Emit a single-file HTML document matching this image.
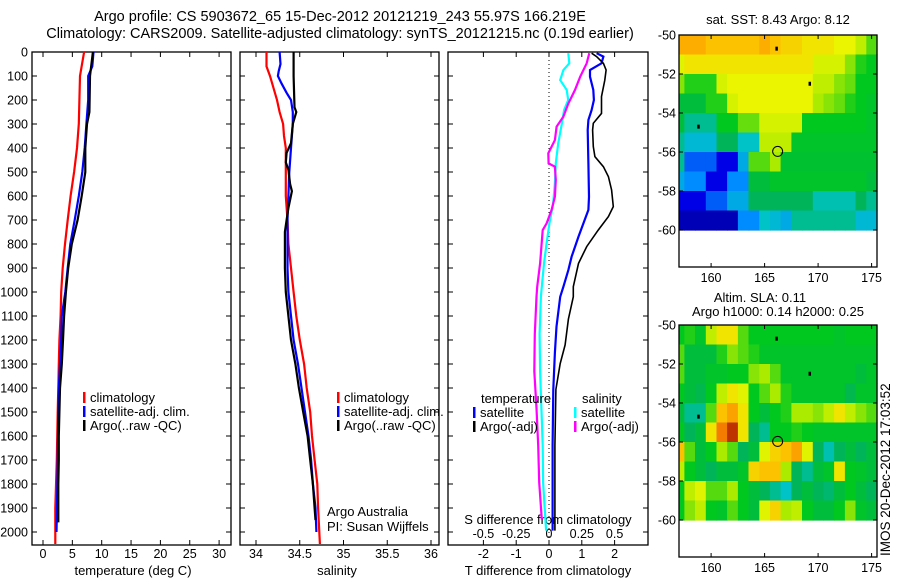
<!DOCTYPE html>
<html><head><meta charset="utf-8"><style>
html,body{margin:0;padding:0;background:#fff;}
svg{display:block;font-family:"Liberation Sans",sans-serif;}
text{fill:#000;}
</style></head><body>
<svg id="fig" width="900" height="580" viewBox="0 0 900 580" xmlns="http://www.w3.org/2000/svg">
<text x="340" y="21" font-size="14.5" text-anchor="middle">Argo profile: CS 5903672_65 15-Dec-2012 20121219_243 55.97S 166.219E</text>
<text x="340" y="38" font-size="14.5" text-anchor="middle">Climatology: CARS2009. Satellite-adjusted climatology: synTS_20121215.nc (0.19d earlier)</text>
<g id="g1"></g>
<g id="g2"></g>
<g id="g3"></g>
<g id="m1"></g>
<g id="m2"></g>
<text transform="translate(890,556) rotate(-90)" font-size="13.5">IMOS 20-Dec-2012 17:03:52</text>
</svg>
<script>
// ---------- data ----------
const depthTicks=[0,100,200,300,400,500,600,700,800,900,1000,1100,1200,1300,1400,1500,1600,1700,1800,1900,2000];
const tempTicks=[0,5,10,15,20,25,30];
const salTicks=[34,34.5,35,35.5,36];
const salTickLabels=["34","34.5","35","35.5","36"];
const tdiffTicks=[-2,-1,0,1,2];
const sdiffTicks=[-0.5,-0.25,0,0.25,0.5];

const tClimDepth=[0,100,200,300,400,500,600,700,800,900,1000,1100,1200,1300,1400,1500,1700,1900,2050];
const tClim=[7.0,6.3,6.2,6.1,5.8,5.3,4.7,4.2,3.75,3.35,3.1,3.0,2.8,2.7,2.6,2.5,2.35,2.1,2.1];
const tSatDepth=[0,60,100,200,300,400,500,600,700,800,900,1000,1100,1200,1300,1400,1500,1600,1800,2000];
const tSat=[8.6,8.4,7.7,7.7,7.4,7.1,6.7,6.1,5.4,4.65,4.2,3.8,3.2,3.1,2.9,2.7,2.6,2.55,2.45,2.3];
const tArgoDepth=[0,100,250,300,400,500,600,700,800,900,1000,1100,1200,1300,1400,1500,1600,1700,1800,1960];
const tArgo=[8.5,8.0,7.9,7.5,7.2,7.2,6.6,5.9,4.9,4.3,3.9,3.6,3.4,3.2,2.9,2.8,2.7,2.7,2.6,2.6];

const sClimDepth=[0,60,100,150,200,250,300,350,400,500,600,700,800,900,1000,1100,1200,1300,1400,1500,1600,1700,1800,1900,2050];
const sClim=[34.12,34.12,34.16,34.20,34.24,34.27,34.31,34.32,34.34,34.34,34.34,34.36,34.37,34.40,34.43,34.46,34.50,34.55,34.58,34.62,34.64,34.67,34.70,34.71,34.73];
const sSatDepth=[0,50,80,100,130,170,200,250,300,400,500,600,700,800,900,1000,1100,1200,1300,1400,1500,1600,1700,1800,1900,2000];
const sSat=[34.27,34.28,34.26,34.25,34.29,34.35,34.40,34.42,34.42,34.40,34.38,34.37,34.36,34.36,34.36,34.37,34.40,34.43,34.48,34.52,34.56,34.60,34.63,34.65,34.68,34.69];
const sArgoDepth=[0,100,230,250,300,380,420,460,490,550,580,650,700,750,800,900,1000,1100,1200,1300,1400,1500,1600,1700,1800,1900,1950];
const sArgo=[34.43,34.43,34.44,34.46,34.42,34.40,34.35,34.34,34.37,34.39,34.41,34.37,34.35,34.33,34.33,34.33,34.34,34.37,34.40,34.45,34.49,34.54,34.59,34.62,34.65,34.67,34.68];

const dTSatDepth=[5,19,47,75,103,158,200,242,283,325,464,603,658,714,769,853,908,978,1020,1144,1252,1406,1639,1994];
const dTSat=[1.45,1.66,1.6,1.25,1.25,1.35,1.37,1.30,1.2,1.18,1.2,1.22,1.2,1.05,0.9,0.69,0.59,0.44,0.34,0.23,0.18,0.13,0.11,0.11];
const dTArgoDepth=[5,19,47,75,117,186,256,297,325,394,436,478,519,575,644,686,742,811,881,978,1020,1113,1221,1298,1406,1639,1994];
const dTArgo=[1.3,1.45,1.66,1.74,1.70,1.6,1.6,1.35,1.33,1.35,1.4,1.66,1.81,1.91,1.96,1.81,1.5,1.15,0.9,0.74,0.74,0.59,0.49,0.34,0.21,0.18,0.18];
const dSSatDepth=[5,47,75,117,158,200,242,297,381,464,547,631,714,797,881,978,1020,1175,1330,1484,1639,1793,1994];
const dSSat=[0.147,0.155,0.11,0.085,0.135,0.146,0.115,0.098,0.07,0.052,0.045,0.032,0.003,-0.018,-0.038,-0.055,-0.062,-0.072,-0.068,-0.058,-0.048,-0.045,-0.022];
const dSArgoDepth=[5,47,103,158,214,269,311,367,422,464,478,533,603,658,714,742,881,978,1020,1175,1330,1484,1639,1793,1948];
const dSArgo=[0.307,0.287,0.238,0.198,0.148,0.11,0.058,0.045,-0.005,-0.003,0.045,0.052,0.045,0.02,-0.018,-0.048,-0.068,-0.09,-0.095,-0.108,-0.112,-0.095,-0.082,-0.075,-0.055];

const mapLons=[157,158,159,160,161,162,163,164,165,166,167,168,169,170,171,172,173,174,175];
const mapLats=[-50,-51,-52,-53,-54,-55,-56,-57,-58,-59];
const sstGrid=[
[0.84,0.84,0.84,0.82,0.82,0.82,0.82,0.82,0.84,0.82,0.8,0.8,0.78,0.78,0.78,0.76,0.76,0.72,0.65],
[0.75,0.78,0.78,0.78,0.78,0.78,0.78,0.78,0.78,0.78,0.78,0.78,0.78,0.74,0.74,0.74,0.68,0.62,0.6],
[0.68,0.62,0.62,0.62,0.74,0.76,0.76,0.76,0.76,0.76,0.76,0.76,0.76,0.72,0.72,0.68,0.66,0.6,0.6],
[0.55,0.55,0.55,0.62,0.62,0.74,0.76,0.76,0.76,0.76,0.76,0.76,0.76,0.7,0.68,0.66,0.62,0.6,0.58],
[0.55,0.45,0.45,0.45,0.6,0.6,0.66,0.66,0.74,0.74,0.74,0.74,0.6,0.6,0.6,0.6,0.6,0.6,0.58],
[0.45,0.38,0.38,0.38,0.5,0.5,0.4,0.4,0.72,0.72,0.72,0.58,0.58,0.58,0.58,0.58,0.58,0.58,0.58],
[0.45,0.25,0.25,0.25,0.15,0.15,0.35,0.65,0.65,0.7,0.57,0.57,0.57,0.57,0.57,0.57,0.57,0.57,0.57],
[0.35,0.3,0.3,0.15,0.15,0.3,0.3,0.55,0.55,0.58,0.58,0.58,0.58,0.58,0.58,0.58,0.58,0.58,0.55],
[0.15,0.15,0.15,0.25,0.25,0.35,0.35,0.5,0.5,0.5,0.5,0.5,0.5,0.42,0.42,0.42,0.42,0.5,0.45],
[0.08,0.08,0.08,0.08,0.08,0.08,0.3,0.3,0.4,0.38,0.35,0.45,0.45,0.45,0.45,0.45,0.45,0.38,0.38]];
const slaGrid=[
[0.6,0.62,0.58,0.72,0.78,0.78,0.65,0.6,0.6,0.6,0.6,0.6,0.6,0.6,0.6,0.58,0.6,0.6,0.6],
[0.65,0.55,0.55,0.55,0.62,0.68,0.65,0.62,0.58,0.58,0.58,0.58,0.58,0.58,0.58,0.58,0.58,0.58,0.58],
[0.65,0.55,0.55,0.58,0.58,0.6,0.6,0.68,0.7,0.65,0.58,0.58,0.58,0.58,0.58,0.58,0.58,0.55,0.58],
[0.6,0.55,0.52,0.6,0.72,0.78,0.75,0.6,0.65,0.7,0.62,0.58,0.58,0.58,0.58,0.58,0.52,0.58,0.58],
[0.55,0.45,0.45,0.65,0.82,0.85,0.78,0.6,0.55,0.6,0.62,0.7,0.7,0.68,0.72,0.78,0.72,0.68,0.65],
[0.6,0.5,0.55,0.78,0.88,0.95,0.78,0.5,0.45,0.6,0.6,0.62,0.6,0.58,0.58,0.58,0.58,0.58,0.58],
[0.82,0.65,0.55,0.6,0.7,0.65,0.5,0.55,0.75,0.8,0.82,0.85,0.75,0.5,0.42,0.5,0.55,0.5,0.55],
[0.72,0.6,0.55,0.5,0.55,0.55,0.58,0.8,0.82,0.82,0.7,0.5,0.45,0.55,0.58,0.78,0.6,0.58,0.55],
[0.6,0.72,0.75,0.65,0.65,0.7,0.6,0.55,0.5,0.45,0.4,0.5,0.55,0.5,0.48,0.55,0.6,0.55,0.5],
[0.6,0.68,0.72,0.6,0.58,0.65,0.6,0.55,0.75,0.8,0.7,0.72,0.6,0.55,0.55,0.6,0.68,0.58,0.55]];
const mapLatTicks=[-50,-52,-54,-56,-58,-60];
const mapLonTicks=[160,165,170,175];
const argoLon=166.22, argoLat=-55.97;
const islandLons=[166.1,169.2,158.8];
const islandLats=[-50.7,-52.5,-54.7];

// ---------- helpers ----------
const NS="http://www.w3.org/2000/svg";
function mk(parent,tag,attrs,txt){const e=document.createElementNS(NS,tag);for(const k in attrs)e.setAttribute(k,attrs[k]);if(txt!==undefined)e.textContent=txt;parent.appendChild(e);return e;}
const Y0=52, YS=0.24, YB=545;
const yD=d=>Y0+d*YS;

function panelFrame(g,x0,x1,name){
  const r=mk(g,'rect',{x:x0,y:Y0,width:x1-x0,height:YB-Y0,fill:'none',stroke:'#000','stroke-width':1.3});
  
  
  depthTicks.forEach(d=>{
    mk(g,'line',{x1:x0,x2:x0+5,y1:yD(d),y2:yD(d),stroke:'#000'});
    mk(g,'line',{x1:x1-5,x2:x1,y1:yD(d),y2:yD(d),stroke:'#000'});
  });
}
function xTicks(g,vals,xf,labels,ly){
  vals.forEach((v,i)=>{
    const x=xf(v);
    mk(g,'line',{x1:x,x2:x,y1:Y0,y2:Y0+5,stroke:'#000'});
    mk(g,'line',{x1:x,x2:x,y1:YB-5,y2:YB,stroke:'#000'});
    const t=mk(g,'text',{x:x,y:ly,'font-size':12.5,'text-anchor':'middle'},labels?labels[i]:String(v));
    
    
  });
}
function profile(g,vals,depths,xf,color,name,w){
  const pts=vals.map((v,i)=>xf(v).toFixed(1)+','+yD(depths[i]).toFixed(1)).join(' ');
  const p=mk(g,'polyline',{points:pts,fill:'none',stroke:color,'stroke-width':w||2.2});
  
  
}
function legend(g,x,y,color,label){
  mk(g,'rect',{x:x,y:y-10,width:2.5,height:11,fill:color});
  const t=mk(g,'text',{x:x+7,y:y,'font-size':13},label);
  
  
}

// ---------- panel 1: temperature ----------
const g1=document.getElementById('g1');
const xT=v=>43+v*5.87;
panelFrame(g1,32,231,'temperature');
depthTicks.forEach(d=>{
  const t=mk(g1,'text',{x:28,y:yD(d)+4.5,'font-size':12.5,'text-anchor':'end'},String(d));
  
  
});
xTicks(g1,tempTicks,xT,null,558);
mk(g1,'text',{x:133,y:575,'font-size':13,'text-anchor':'middle'},'temperature (deg C)');
profile(g1,tClim,tClimDepth,xT,'#f00','temp-climatology-line');
profile(g1,tSat,tSatDepth,xT,'#00f','temp-satellite-line');
profile(g1,tArgo,tArgoDepth,xT,'#000','temp-argo-line');
legend(g1,83,402,'#f00','climatology');
legend(g1,83,416,'#00f','satellite-adj. clim.');
legend(g1,83,430,'#000','Argo(..raw -QC)');

// ---------- panel 2: salinity ----------
const g2=document.getElementById('g2');
const xS=v=>256+(v-34)*87.5;
panelFrame(g2,240,439,'salinity');
xTicks(g2,salTicks,xS,salTickLabels,558);
mk(g2,'text',{x:337,y:575,'font-size':13,'text-anchor':'middle'},'salinity');
profile(g2,sClim,sClimDepth,xS,'#f00','sal-climatology-line');
profile(g2,sSat,sSatDepth,xS,'#00f','sal-satellite-line');
profile(g2,sArgo,sArgoDepth,xS,'#000','sal-argo-line');
legend(g2,337,402,'#f00','climatology');
legend(g2,337,416,'#00f','satellite-adj. clim.');
legend(g2,337,430,'#000','Argo(..raw -QC)');
mk(g2,'text',{x:327,y:516,'font-size':13},'Argo Australia');
mk(g2,'text',{x:327,y:531,'font-size':13},'PI: Susan Wijffels');

// ---------- panel 3: differences ----------
const g3=document.getElementById('g3');
const xD=v=>549+v*32.8;
const xSD=v=>549+v*4*32.8;
panelFrame(g3,448,648,'difference');
mk(g3,'line',{x1:xD(0),x2:xD(0),y1:Y0,y2:YB,stroke:'#000','stroke-dasharray':'1,3','stroke-width':1});
tdiffTicks.forEach(v=>{
  const x=xD(v);
  mk(g3,'line',{x1:x,x2:x,y1:Y0,y2:Y0+5,stroke:'#000'});
  mk(g3,'line',{x1:x,x2:x,y1:YB-5,y2:YB,stroke:'#000'});
  mk(g3,'text',{x:x,y:558,'font-size':12.5,'text-anchor':'middle'},String(v));
});
sdiffTicks.forEach(v=>{
  mk(g3,'text',{x:xSD(v),y:538,'font-size':12.5,'text-anchor':'middle'},String(v));
});
mk(g3,'text',{x:548,y:524,'font-size':13,'text-anchor':'middle'},'S difference from climatology');
mk(g3,'text',{x:548,y:575,'font-size':13,'text-anchor':'middle'},'T difference from climatology');
profile(g3,dSSat,dSSatDepth,xSD,'#0ff','sdiff-satellite-line');
profile(g3,dSArgo,dSArgoDepth,xSD,'#f0f','sdiff-argo-line');
profile(g3,dTSat,dTSatDepth,xD,'#00f','tdiff-satellite-line');
profile(g3,dTArgo,dTArgoDepth,xD,'#000','tdiff-argo-line',1.6);
mk(g3,'text',{x:481,y:403,'font-size':13},'temperature');
legend(g3,473,417,'#00f','satellite');
legend(g3,473,431,'#000','Argo(-adj)');
mk(g3,'text',{x:582,y:403,'font-size':13},'salinity');
legend(g3,574,417,'#0ff','satellite');
legend(g3,574,431,'#f0f','Argo(-adj)');

// ---------- maps ----------
const stops=[[0,[0,0,128]],[0.15,[0,0,230]],[0.3,[0,140,255]],[0.4,[0,195,200]],[0.5,[0,180,90]],[0.6,[0,200,30]],[0.7,[170,235,0]],[0.76,[235,245,0]],[0.83,[255,185,0]],[0.9,[240,100,0]],[1,[140,0,0]]];
function cmap(v){
  for(let i=1;i<stops.length;i++){if(v<=stops[i][0]){const a=stops[i-1],b=stops[i];const f=(v-a[0])/(b[0]-a[0]);const c=a[1].map((x,k)=>Math.round(x+(b[1][k]-x)*f));return 'rgb('+c.join(',')+')';}}
  return 'rgb(140,0,0)';
}
function drawMap(id,grid,top,name){
  const g=document.getElementById(id);
  const L=679,R=877,T=top,B=top+232;
  const xL=lon=>L+(lon-157.0)*10.7;
  const yL=lat=>T+(-50-lat)*19.5;
  grid.forEach((row,r)=>row.forEach((v,c)=>{
    const x0=xL(mapLons[c]-0.5), x1=Math.min(xL(mapLons[c]+0.5),R);
    const cell=mk(g,'rect',{x:Math.max(x0,L).toFixed(1),y:yL(mapLats[r]).toFixed(1),width:(x1-Math.max(x0,L)+0.6).toFixed(1),height:(19.5+0.6).toFixed(1),fill:cmap(v)});
    
    
  }));
  islandLons.forEach((lo,i)=>{
    const isl=mk(g,'rect',{x:xL(lo)-1,y:yL(islandLats[i])-2,width:2.5,height:4,fill:'#000'});
    
    
  });
  const c=mk(g,'circle',{cx:xL(argoLon),cy:yL(argoLat),r:5,fill:'none',stroke:'#000','stroke-width':1});
  
  
  const fr=mk(g,'rect',{x:L,y:T,width:R-L,height:B-T,fill:'none',stroke:'#000','stroke-width':1.3});
  
  
  mapLatTicks.forEach(lat=>{
    const y=yL(lat);
    mk(g,'line',{x1:L,x2:L+4,y1:y,y2:y,stroke:'#000'});
    mk(g,'line',{x1:R-4,x2:R,y1:y,y2:y,stroke:'#000'});
    mk(g,'text',{x:L-3,y:y+4.5,'font-size':12.5,'text-anchor':'end'},String(lat));
  });
  mapLonTicks.forEach(lon=>{
    const x=xL(lon);
    mk(g,'line',{x1:x,x2:x,y1:T,y2:T+4,stroke:'#000'});
    mk(g,'line',{x1:x,x2:x,y1:B-4,y2:B,stroke:'#000'});
    mk(g,'text',{x:x,y:B+15,'font-size':12.5,'text-anchor':'middle'},String(lon));
  });
}
drawMap('m1',sstGrid,35,'sst-map');
drawMap('m2',slaGrid,325,'sla-map');
const m1=document.getElementById('m1'), m2=document.getElementById('m2');
mk(m1,'text',{x:778,y:24,'font-size':13,'text-anchor':'middle'},'sat. SST: 8.43 Argo: 8.12');
mk(m2,'text',{x:760,y:302,'font-size':13,'text-anchor':'middle'},'Altim. SLA: 0.11');
mk(m2,'text',{x:778,y:316,'font-size':13,'text-anchor':'middle'},'Argo h1000: 0.14 h2000: 0.25');
</script>
</body></html>
